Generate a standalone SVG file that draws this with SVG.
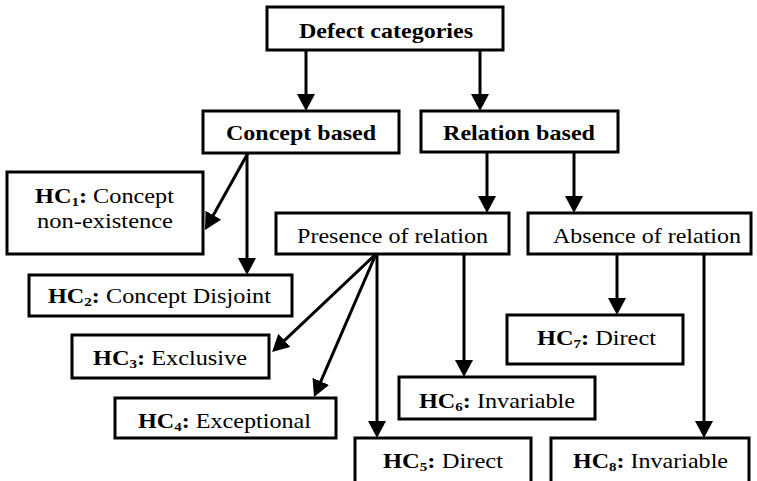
<svg xmlns="http://www.w3.org/2000/svg" width="757" height="481" viewBox="0 0 757 481" font-family="'Liberation Serif', 'DejaVu Serif', serif">
  <style>
    .box { fill: #ffffff; stroke: #000000; stroke-width: 3; }
    .edge { fill: none; stroke: #000000; stroke-width: 3; marker-end: url(#head); }
    text { font-family: "Liberation Serif", "DejaVu Serif", serif; fill: #000000; }
    .title { font-weight: bold; font-size: 22px; }
    .label { font-size: 21px; }
    .b { font-weight: bold; }
    .sub { font-weight: bold; font-size: 13px; }
  </style>
  <defs>
    <marker id="head" markerUnits="userSpaceOnUse" markerWidth="17" markerHeight="18" refX="13" refY="9" orient="auto">
      <path d="M0,0 L17,9 L0,18 Z" fill="#000000"/>
    </marker>
  </defs>

  <rect width="757" height="481" fill="#ffffff"/>

  <!-- connectors -->
  <g id="connectors">
    <line class="edge" x1="306" y1="50" x2="306" y2="107"/>
    <line class="edge" x1="480" y1="50" x2="480" y2="107"/>
    <line class="edge" x1="248" y1="153" x2="207" y2="226.5"/>
    <line class="edge" x1="247" y1="153" x2="247" y2="271"/>
    <line class="edge" x1="487" y1="152" x2="487" y2="209"/>
    <line class="edge" x1="574" y1="152" x2="574" y2="209"/>
    <line class="edge" x1="376" y1="254" x2="275" y2="349.3"/>
    <line class="edge" x1="376" y1="254" x2="315.6" y2="393.3" stroke-width="2.5"/>
    <line class="edge" x1="377" y1="254" x2="377" y2="434"/>
    <line class="edge" x1="464" y1="254" x2="464" y2="373"/>
    <line class="edge" x1="617" y1="254" x2="617" y2="311"/>
    <line class="edge" x1="704" y1="254" x2="704" y2="434"/>
  </g>

  <g id="defect-categories">
    <rect class="box" x="267" y="7" width="236" height="43"/>
    <text class="title" x="299" y="38" textLength="174" lengthAdjust="spacingAndGlyphs">Defect categories</text>
  </g>

  <g id="concept-based">
    <rect class="box" x="203" y="111" width="196" height="42"/>
    <text class="title" x="226" y="140" textLength="150" lengthAdjust="spacingAndGlyphs">Concept based</text>
  </g>

  <g id="relation-based">
    <rect class="box" x="421" y="111" width="197" height="41"/>
    <text class="title" x="443" y="140" textLength="152" lengthAdjust="spacingAndGlyphs">Relation based</text>
  </g>

  <g id="hc1">
    <rect class="box" x="7" y="172" width="196" height="82"/>
    <text class="label" x="35" y="203" textLength="139" lengthAdjust="spacingAndGlyphs"><tspan class="b">HC</tspan><tspan class="sub" dy="3">1</tspan><tspan class="b" dy="-3">:</tspan> Concept</text>
    <text class="label" x="37" y="228" textLength="136" lengthAdjust="spacingAndGlyphs">non-existence</text>
  </g>

  <g id="hc2">
    <rect class="box" x="29" y="275" width="263" height="41"/>
    <text class="label" x="48" y="303" textLength="223" lengthAdjust="spacingAndGlyphs"><tspan class="b">HC</tspan><tspan class="sub" dy="3">2</tspan><tspan class="b" dy="-3">:</tspan> Concept Disjoint</text>
  </g>

  <g id="presence-of-relation">
    <rect class="box" x="276" y="213" width="233" height="41"/>
    <text class="label" x="297" y="243" textLength="191" lengthAdjust="spacingAndGlyphs">Presence of relation</text>
  </g>

  <g id="absence-of-relation">
    <rect class="box" x="528" y="213" width="223" height="41"/>
    <text class="label" x="553" y="243" textLength="188" lengthAdjust="spacingAndGlyphs">Absence of relation</text>
  </g>

  <g id="hc3">
    <rect class="box" x="72" y="335" width="197" height="43"/>
    <text class="label" x="93" y="365" textLength="154" lengthAdjust="spacingAndGlyphs"><tspan class="b">HC</tspan><tspan class="sub" dy="3">3</tspan><tspan class="b" dy="-3">:</tspan> Exclusive</text>
  </g>

  <g id="hc4">
    <rect class="box" x="115" y="398" width="221" height="40"/>
    <text class="label" x="138" y="428" textLength="173" lengthAdjust="spacingAndGlyphs"><tspan class="b">HC</tspan><tspan class="sub" dy="3">4</tspan><tspan class="b" dy="-3">:</tspan> Exceptional</text>
  </g>

  <g id="hc5">
    <rect class="box" x="355" y="438" width="176" height="46"/>
    <text class="label" x="383" y="468" textLength="120" lengthAdjust="spacingAndGlyphs"><tspan class="b">HC</tspan><tspan class="sub" dy="3">5</tspan><tspan class="b" dy="-3">:</tspan> Direct</text>
  </g>

  <g id="hc6">
    <rect class="box" x="399" y="377" width="196" height="42"/>
    <text class="label" x="419" y="408" textLength="156" lengthAdjust="spacingAndGlyphs"><tspan class="b">HC</tspan><tspan class="sub" dy="3">6</tspan><tspan class="b" dy="-3">:</tspan> Invariable</text>
  </g>

  <g id="hc7">
    <rect class="box" x="507" y="315" width="176" height="49"/>
    <text class="label" x="537" y="345" textLength="119" lengthAdjust="spacingAndGlyphs"><tspan class="b">HC</tspan><tspan class="sub" dy="3">7</tspan><tspan class="b" dy="-3">:</tspan> Direct</text>
  </g>

  <g id="hc8">
    <rect class="box" x="551" y="438" width="198" height="46"/>
    <text class="label" x="573" y="468" textLength="155" lengthAdjust="spacingAndGlyphs"><tspan class="b">HC</tspan><tspan class="sub" dy="3">8</tspan><tspan class="b" dy="-3">:</tspan> Invariable</text>
  </g>
</svg>
